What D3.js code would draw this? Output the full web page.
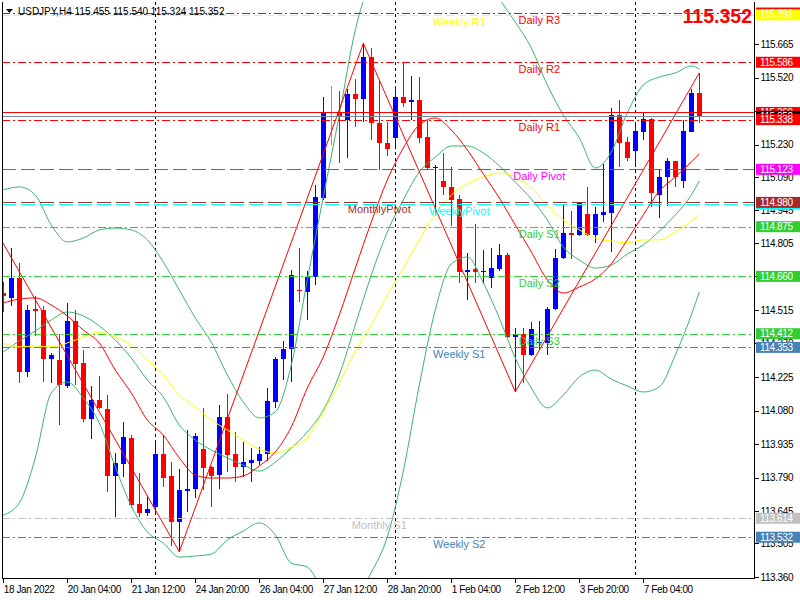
<!DOCTYPE html>
<html>
<head>
<meta charset="utf-8">
<script src="https://cdn.jsdelivr.net/npm/d3@7"></script>
<style>
body { margin: 0; background: #fff; }
svg { display: block; }
.axis text {
  font-family: "Liberation Sans", Arial, sans-serif;
  font-size: 10px;
  letter-spacing: -0.4px;
  fill: #000;
}
.axis line { stroke: #000; shape-rendering: crispEdges; }
.axis path { display: none; }
.lvl-text { font-family: "Liberation Sans", Arial, sans-serif; font-size: 11px; }
.plabel { font-family: "Liberation Sans", Arial, sans-serif; font-size: 10px; letter-spacing: -0.4px; fill: #fff; }
</style>
</head>
<body>
<svg id="chart" width="800" height="600"></svg>
<script>

// ---- data ----
var symbol = "USDJPY,H4";

// H4 candles, one entry per bar
var open  = [114.588,114.568,114.654,114.248,114.519,114.515,114.304,114.299,114.187,114.469,
             114.286,114.045,114.126,114.085,113.798,113.850,113.961,113.674,113.638,113.661,
             113.892,113.797,113.599,113.733,113.739,113.912,113.834,113.800,114.052,113.892,
             113.837,113.854,113.863,113.892,114.117,114.302,114.345,114.601,114.594,114.659,
             115.001,115.372,115.372,115.337,115.449,115.426,115.608,115.322,115.236,115.260,
             115.435,115.416,115.423,115.262,115.128,115.073,115.048,114.994,114.678,114.691,
             114.678,114.652,114.692,114.753,114.399,114.410,114.320,114.371,114.373,114.518,
             114.738,114.847,114.839,114.929,114.839,114.927,114.936,115.358,115.243,115.204,
             115.286,115.341,115.012,115.089,115.159,115.074,115.286,115.455];
var high  = [114.636,114.782,114.717,114.536,114.575,114.532,114.328,114.411,114.544,114.515,
             114.342,114.186,114.231,114.148,113.898,114.030,113.974,113.809,113.707,113.950,
             113.973,113.857,113.828,113.996,113.984,114.090,113.840,114.104,114.151,113.987,
             113.944,113.918,113.924,114.176,114.313,114.381,114.688,114.782,114.685,115.055,
             115.437,115.484,115.462,115.469,115.513,115.668,115.647,115.510,115.329,115.484,
             115.589,115.527,115.524,115.337,115.142,115.193,115.135,115.012,114.760,114.887,
             114.774,114.782,114.800,114.760,114.436,114.437,114.464,114.468,114.529,114.777,
             114.969,114.944,114.983,115.048,114.962,115.146,115.387,115.423,115.262,115.329,
             115.372,115.344,115.120,115.171,115.159,115.337,115.469,115.540];
var low   = [114.506,114.532,114.200,114.224,114.402,114.205,114.200,114.019,114.179,114.190,
             114.032,113.958,114.087,113.729,113.621,113.794,113.657,113.621,113.624,113.628,
             113.751,113.494,113.469,113.642,113.700,113.736,113.664,113.742,113.815,113.772,
             113.794,113.772,113.844,113.863,114.092,114.212,114.202,114.549,114.472,114.623,
             114.991,115.228,115.152,115.171,115.308,115.329,115.250,115.120,115.181,115.214,
             115.394,115.337,115.238,115.120,114.926,115.012,114.878,114.633,114.558,114.633,
             114.630,114.609,114.685,114.394,114.161,114.198,114.316,114.342,114.320,114.515,
             114.734,114.734,114.835,114.835,114.806,114.897,114.767,115.132,115.161,115.132,
             115.250,114.962,114.911,114.965,115.048,115.041,115.286,115.324];
var close = [114.575,114.654,114.248,114.515,114.512,114.304,114.320,114.192,114.469,114.281,
             114.043,114.126,114.092,113.798,113.852,113.966,113.671,113.638,113.653,113.892,
             113.790,113.599,113.736,113.742,113.970,113.831,113.797,114.052,113.889,113.837,
             113.857,113.866,113.892,114.121,114.303,114.346,114.666,114.597,114.659,115.002,
             115.372,115.372,115.351,115.449,115.426,115.608,115.322,115.236,115.210,115.435,
             115.411,115.423,115.260,115.128,115.135,115.045,114.991,114.680,114.688,114.679,
             114.685,114.696,114.753,114.399,114.410,114.320,114.431,114.378,114.519,114.740,
             114.847,114.839,114.981,114.839,114.929,114.939,115.358,115.238,115.171,115.290,
             115.341,115.020,115.089,115.159,115.089,115.289,115.455,115.352];

// indicator readings, taken every second bar plus the last one
var sampleBars = [0,2,4,6,8,10,12,14,16,18,20,22,24,26,28,30,32,34,36,38,40,42,
                  44,46,48,50,52,54,56,58,60,62,64,66,68,70,72,74,76,78,80,82,84,86,87];
var bbUpper = [115.034,115.047,115.012,114.882,114.809,114.826,114.861,114.869,114.861,114.818,
               114.722,114.601,114.480,114.376,114.234,114.117,114.048,114.074,114.277,114.645,
               115.004,115.358,115.726,115.950,116.100,116.160,116.180,116.150,116.100,116.040,
               115.970,115.860,115.760,115.648,115.488,115.358,115.259,115.129,115.198,115.367,
               115.488,115.522,115.540,115.570,115.557];
var bbMiddle = [114.333,114.381,114.424,114.472,114.506,114.489,114.446,114.385,114.307,114.212,
                114.139,114.017,113.952,113.909,113.875,113.844,113.818,113.857,113.918,113.987,
                114.082,114.234,114.450,114.666,114.852,114.991,115.112,115.176,115.224,115.224,
                115.194,115.138,115.068,114.995,114.904,114.787,114.731,114.696,114.709,114.757,
                114.796,114.856,114.926,115.012,115.073];
var bbLower = [113.628,113.680,113.875,114.156,114.203,114.134,114.026,113.836,113.667,113.555,
               113.507,113.446,113.451,113.459,113.520,113.559,113.594,113.542,113.420,113.403,
               113.300,113.250,113.270,113.380,113.533,113.818,114.190,114.515,114.714,114.744,
               114.632,114.480,114.307,114.177,114.091,114.147,114.225,114.255,114.216,114.186,
               114.160,114.182,114.320,114.493,114.593];
var maFast = [114.545,114.562,114.567,114.536,114.489,114.428,114.372,114.255,114.156,114.039,
              113.974,113.875,113.801,113.788,113.788,113.797,113.840,113.901,114.009,114.177,
              114.312,114.493,114.696,114.895,115.077,115.215,115.315,115.345,115.293,115.207,
              115.103,114.999,114.882,114.766,114.645,114.588,114.614,114.649,114.714,114.818,
              114.926,115.029,115.090,115.155,115.189];
var maSlow = [114.372,114.355,114.359,114.355,114.372,114.398,114.420,114.398,114.363,114.299,
              114.234,114.147,114.095,114.039,113.996,113.952,113.914,113.896,113.922,113.961,
              114.074,114.199,114.337,114.450,114.580,114.696,114.818,114.930,115.012,115.060,
              115.090,115.107,115.090,115.042,114.969,114.904,114.861,114.826,114.813,114.805,
              114.818,114.818,114.852,114.900,114.926];

// zigzag turning points (bar, price)
var zigzagBars   = [-2, 22, 45, 64, 87];
var zigzagPrices = [114.923, 113.469, 115.668, 114.161, 115.540];

// pivot levels
var levelNames  = ["Daily R3","Weekly R1","Daily R2","Daily R1","Daily Pivot","WeeklyPivot",
                   "MonthlyPivot","Daily S1","Daily S2","Daily S3","Weekly S1","Monthly S1","Weekly S2"];
var levelValues = [115.799,115.791,115.586,115.338,115.123,114.973,
                   114.980,114.875,114.660,114.412,114.353,113.614,113.532];

var askPrice = 115.369;
var bidPrice = 115.352;

// axes
var priceTicks = [113.360,113.505,113.645,113.790,113.935,114.080,114.225,114.370,114.515,
                  114.660,114.805,114.945,115.090,115.230,115.375,115.520,115.665];
var timeTickBars = [0, 8, 16, 24, 32, 40, 48, 56, 64, 72, 80];
var timeLabels = ["18 Jan 2022","20 Jan 04:00","21 Jan 12:00","24 Jan 20:00","26 Jan 04:00",
                  "27 Jan 12:00","28 Jan 20:00","1 Feb 04:00","2 Feb 12:00","3 Feb 20:00","7 Feb 04:00"];
var weekStartBars = [19, 49, 79];

// ---- layout ----
var plot = {left: 2, right: 754, top: 2, bottom: 578};
var bodyWidth = 5;

var levelStyle = {
  "Daily R3":     {color: "#ff0000", dash: "8,3,2,3", textBar: 67},
  "Weekly R1":    {color: "#ffff00", dash: "8,4",     textBar: 57},
  "Daily R2":     {color: "#ff0000", dash: "8,3,2,3", textBar: 67},
  "Daily R1":     {color: "#ff0000", dash: "8,3,2,3", textBar: 67},
  "Daily Pivot":  {color: "#ff00ff", dash: "14,5",    textBar: 67},
  "WeeklyPivot":  {color: "#00ffff", dash: "14,5",    textBar: 57},
  "MonthlyPivot": {color: "#a52a2a", dash: "14,5",    textBar: 47},
  "Daily S1":     {color: "#32cd32", dash: "8,3,2,3", textBar: 67},
  "Daily S2":     {color: "#32cd32", dash: "8,3,2,3", textBar: 67},
  "Daily S3":     {color: "#32cd32", dash: "8,3,2,3", textBar: 67},
  "Weekly S1":    {color: "#4682b4", dash: "8,3,2,3", textBar: 57},
  "Monthly S1":   {color: "#c0c0c0", dash: "8,3,2,3", textBar: 47},
  "Weekly S2":    {color: "#4682b4", dash: "8,3,2,3", textBar: 57}
};

var svg = d3.select("#chart");

var x = d3.scaleLinear().domain([0, 87]).range([3.3, 699.3]);
var y = d3.scaleLinear().domain([113.360, 115.665]).range([577, 44]);

svg.append("defs").append("clipPath").attr("id", "plotclip")
  .append("rect")
    .attr("x", plot.left).attr("y", plot.top)
    .attr("width", plot.right - plot.left).attr("height", plot.bottom - plot.top);

var g = svg.append("g").attr("clip-path", "url(#plotclip)");

// week separators
g.selectAll("line.sep")
  .data(weekStartBars).enter().append("line")
    .attr("x1", d => Math.round(x(d)) + 0.5)
    .attr("x2", d => Math.round(x(d)) + 0.5)
    .attr("y1", plot.top).attr("y2", plot.bottom)
    .attr("stroke", "#000")
    .attr("stroke-dasharray", "3,3")
    .attr("shape-rendering", "crispEdges");

// candles
var candles = d3.range(open.length).map(i => ({i: i, o: open[i], h: high[i], l: low[i], c: close[i]}));
var candleColor = d => d.c > d.o ? "#0000ff" : (d.c < d.o ? "#ff0000" : "#00ff00");

g.selectAll("line.wick")
  .data(candles).enter().append("line")
    .attr("x1", d => Math.round(x(d.i)) + 0.5)
    .attr("x2", d => Math.round(x(d.i)) + 0.5)
    .attr("y1", d => y(d.h))
    .attr("y2", d => y(d.l))
    .attr("stroke", candleColor)
    .attr("shape-rendering", "crispEdges");

g.selectAll("rect.body")
  .data(candles).enter().append("rect")
    .attr("x", d => Math.round(x(d.i)) - 2)
    .attr("y", d => y(Math.max(d.o, d.c)))
    .attr("width", bodyWidth)
    .attr("height", d => Math.max(1, y(Math.min(d.o, d.c)) - y(Math.max(d.o, d.c))))
    .attr("fill", candleColor)
    .attr("shape-rendering", "crispEdges");

// indicator lines
function drawSeries(values, color) {
  var line = d3.line()
    .x((d, i) => x(sampleBars[i]))
    .y(d => y(d))
    .curve(d3.curveMonotoneX);
  g.append("path")
    .attr("d", line(values))
    .attr("fill", "none")
    .attr("stroke", color)
    .attr("stroke-width", 1);
}
drawSeries(bbUpper, "#3cb371");
drawSeries(bbMiddle, "#3cb371");
drawSeries(bbLower, "#3cb371");
drawSeries(maSlow, "#ffff00");
drawSeries(maFast, "#ff0000");

var zz = d3.line().x((d, i) => x(zigzagBars[i])).y(d => y(d));
g.append("path")
  .attr("d", zz(zigzagPrices))
  .attr("fill", "none")
  .attr("stroke", "#ff0000")
  .attr("stroke-width", 1);

// big price label
svg.append("text")
  .attr("x", 752).attr("y", 23)
  .attr("text-anchor", "end")
  .attr("font-family", "Liberation Sans, Arial, sans-serif")
  .attr("font-weight", "bold")
  .attr("font-size", "19.5px")
  .attr("fill", "#ff0000")
  .text(d3.format(".3f")(bidPrice));

// pivot lines + names
var levels = levelNames.map((n, i) => ({name: n, value: levelValues[i], s: levelStyle[n]}));

g.selectAll("line.lvl")
  .data(levels).enter().append("line")
    .attr("x1", plot.left).attr("x2", plot.right)
    .attr("y1", d => Math.round(y(d.value)) + 0.5)
    .attr("y2", d => Math.round(y(d.value)) + 0.5)
    .attr("stroke", d => d.s.color)
    .attr("stroke-dasharray", d => d.s.dash)
    .attr("shape-rendering", "crispEdges");

g.selectAll("text.lvl")
  .data(levels).enter().append("text")
    .attr("class", "lvl-text")
    .attr("x", d => x(d.s.textBar))
    .attr("y", d => y(d.value) + 11)
    .attr("text-anchor", "middle")
    .attr("fill", d => d.s.color)
    .text(d => d.name);

// ask / bid lines
g.append("line")
  .attr("x1", plot.left).attr("x2", plot.right)
  .attr("y1", Math.round(y(askPrice)) + 0.5).attr("y2", Math.round(y(askPrice)) + 0.5)
  .attr("stroke", "#ff0000").attr("shape-rendering", "crispEdges");
g.append("line")
  .attr("x1", plot.left).attr("x2", plot.right)
  .attr("y1", Math.round(y(bidPrice)) + 0.5).attr("y2", Math.round(y(bidPrice)) + 0.5)
  .attr("stroke", "#778899").attr("shape-rendering", "crispEdges");

// header
svg.append("path")
  .attr("d", "M6,9 L13,9 L9.5,13 Z")
  .attr("fill", "#000");
svg.append("text")
  .attr("x", 18).attr("y", 15)
  .attr("font-family", "Liberation Sans, Arial, sans-serif")
  .attr("font-size", "10px")
  .attr("fill", "#000")
  .text(symbol + "  " + [open[87], high[87], low[87], close[87]].map(d3.format(".3f")).join(" "));

// frame
svg.append("path")
  .attr("d", `M${plot.left + 0.5},${plot.top} V${plot.bottom + 0.5} H${plot.right + 0.5} V${plot.top}`)
  .attr("fill", "none")
  .attr("stroke", "#000")
  .attr("shape-rendering", "crispEdges");

// axes
svg.append("g")
  .attr("class", "axis")
  .attr("transform", `translate(${plot.right + 0.5},0)`)
  .call(d3.axisRight(y).tickValues(priceTicks).tickSize(4).tickPadding(2).tickFormat(d3.format(".3f")));

var xAxis = svg.append("g")
  .attr("class", "axis")
  .attr("transform", `translate(0,${plot.bottom + 0.5})`)
  .call(d3.axisBottom(x).tickValues(timeTickBars).tickSize(4).tickPadding(3)
        .tickFormat((d, i) => timeLabels[i]));
xAxis.selectAll("text").attr("text-anchor", "start");

// price labels on the axis
function priceLabel(value, bg, txt) {
  var cy = y(value);
  svg.append("rect")
    .attr("x", plot.right + 2).attr("y", cy - 5.5)
    .attr("width", 800 - plot.right - 2).attr("height", 11)
    .attr("fill", bg);
  svg.append("text")
    .attr("class", "plabel")
    .attr("x", plot.right + 6).attr("y", cy + 3.5)
    .text(txt);
}
var fmt = d3.format(".3f");
levels.forEach(function(d) {
  if (d.name == "Daily R1") {
    priceLabel(askPrice, "#ff0000", fmt(askPrice));
    priceLabel(bidPrice, "#000000", fmt(bidPrice));
  }
  var bg = d.name == "MonthlyPivot" ? "#a52a2a" : d.s.color;
  priceLabel(d.value, bg, fmt(d.value));
});

</script>
</body>
</html>
